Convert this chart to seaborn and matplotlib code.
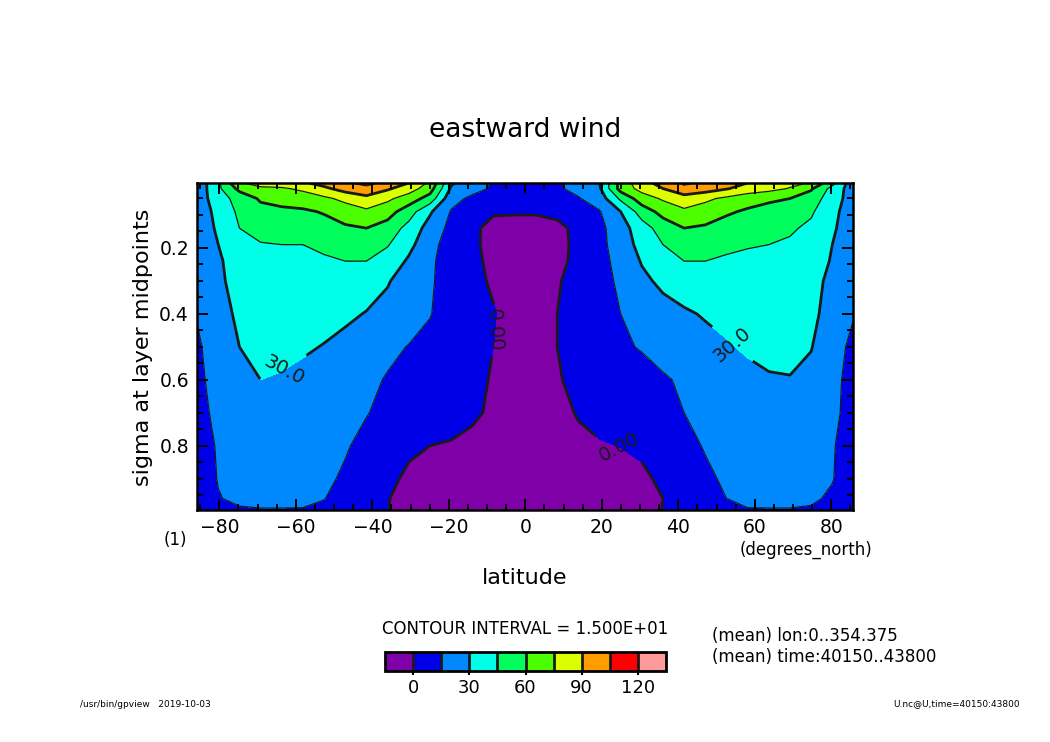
import numpy as np
import matplotlib
matplotlib.use('Agg')
import matplotlib.pyplot as plt
from matplotlib.ticker import MultipleLocator, FormatStrFormatter
import seaborn as sns

# latitude of the grid columns (degrees_north)
lat = [-85.76, -80.27, -74.74, -69.21, -63.68, -58.14, -52.61, -47.07, -41.54, -36.01, -30.47,
       -24.94, -19.41, -13.87, -8.34, -2.79, 2.79, 8.34, 13.87, 19.41, 24.94, 30.47, 36.01,
       41.54, 47.07, 52.61, 58.14, 63.68, 69.21, 74.74, 80.27, 85.76]

# sigma of the grid rows (top to bottom)
sigma = [0.003, 0.02, 0.05, 0.09, 0.14, 0.19, 0.24, 0.3, 0.4, 0.5, 0.6, 0.7, 0.8, 0.9, 0.96, 0.995]

# zonal mean eastward wind (m/s), one row per sigma level
eastward_wind = [
    [20, 42, 74, 79, 83, 88, 95, 103, 110, 100, 90, 72, 32, 22, 14, 11, 11, 13, 22, 30, 65, 85, 95, 108, 102, 94, 90, 82, 79, 74, 50, 20],
    [20, 42, 64, 73, 73, 78, 87, 96, 100, 92, 82, 67, 28, 20, 13, 10, 10, 13, 19, 28, 66, 80, 90, 100, 97, 91, 84, 80, 74, 62, 40, 22],
    [22, 38, 51, 62, 65, 67, 72, 79, 86, 78, 68, 54, 20, 12, 7, 6, 6, 8, 14, 22, 48, 68, 77, 84, 78, 72, 66, 62, 60, 52, 38, 22],
    [22, 34, 48, 55, 57, 58, 61, 67, 72, 66, 52, 32, 14, 6, 1, 1, 1, 3, 8, 14, 30, 52, 65, 72, 68, 62, 58, 56, 54, 47, 34, 22],
    [22, 32, 45, 51, 52, 53, 55, 58, 60, 54, 40, 24, 11, 2, -3, -4, -4, -3, 3, 11, 24, 38, 52, 60, 58, 54, 51, 49, 47, 42, 32, 22],
    [22, 30, 40, 44, 45, 45, 48, 51, 52, 46, 34, 20, 8, 3, -5, -6, -6, -5, 4, 11, 22, 35, 45, 51, 51, 48, 46, 45, 43, 38, 30, 22],
    [20, 28, 37, 41, 42, 42, 43, 45, 45, 39, 28, 18, 7, 4, -4, -8, -8, -4, 4, 10, 20, 31, 39, 45, 45, 43, 42, 41, 40, 36, 29, 20],
    [19, 27.5, 35, 37, 38, 38, 38, 37, 35, 31, 24, 17, 8, 4, -2, -8, -7, -1, 4, 9, 18, 27, 33, 36, 37, 38, 38, 38, 37, 34, 27, 19],
    [16, 24, 33, 36, 37, 36, 34, 32, 29.5, 26, 21, 15.5, 10, 6, 1, -6, -6, 0, 5, 10, 15, 20, 25, 28.5, 31, 33, 35, 36, 36, 33, 25, 16],
    [13, 22, 30, 33, 33, 31.5, 29.5, 27, 23, 18, 14.5, 12, 9, 5, 0, -6, -6, 0, 6, 10, 13, 16, 20, 23.5, 26.5, 29, 31.5, 33, 33, 30.5, 22, 11],
    [12, 20, 27, 30, 29, 27, 24, 21, 18, 14, 11, 9, 6, 3, -1, -7, -7, -1, 3, 6, 8, 10, 13.5, 17, 21, 24.5, 27, 29, 29.5, 27, 19, 10],
    [11, 18, 22, 24, 24.5, 23.5, 21, 18, 15.5, 12, 9, 7, 5, 2, -2, -8, -8, -4, 1, 4, 6, 8, 11, 15, 18, 21, 23.5, 24.5, 24.5, 23, 18, 10],
    [10, 16, 19, 20.5, 21, 20, 18, 16, 12, 7, 2, 0, -1, -3, -6, -9, -9, -6, -3, -1, 0.3, 2, 6, 11, 16, 18.5, 20, 21, 21, 19.5, 16, 9],
    [9, 15.5, 18, 19, 19.5, 19, 17, 13.5, 8, 2.5, -2, -5, -7, -8, -10, -11, -11, -10, -9, -7, -5, -2, 2, 7, 12.5, 17, 19, 19.5, 19.5, 18.5, 15.5, 9],
    [7, 14.5, 17, 17.5, 17.5, 17, 15.3, 11, 5, 0.5, -4, -7, -9, -10, -11, -12, -12, -11, -10, -9, -7, -4, 0, 5, 11, 15, 17, 17.5, 17.5, 16.5, 13.5, 7],
    [5, 12, 14, 14.5, 14.5, 14.5, 13, 9, 4, 0.3, -4, -7, -9, -10, -11, -12, -12, -11, -10, -9, -7, -4, 0.3, 4, 9, 13, 14.5, 14.5, 14.5, 14, 11.5, 5],
]

tone_colors = ['#8000a8', '#0000e8', '#0088ff', '#00ffe8', '#00ff5c',
               '#4cff00', '#dcff00', '#ff9c00', '#ff0000', '#ff9a9a']
cbar_ticks = [0, 30, 60, 90, 120]

sns.set_theme(style='ticks')
plt.rcParams['font.family'] = ['DejaVu Sans']
for key in ['text.color', 'axes.labelcolor', 'xtick.color', 'ytick.color', 'axes.edgecolor']:
    plt.rcParams[key] = 'black'

levels = np.arange(-15, 136, 15)
u = np.array(eastward_wind)

fig = plt.figure(figsize=(10.5, 7.42), dpi=100)
ax = fig.add_axes([197.3 / 1050, 1 - 510 / 742, 656 / 1050, 327 / 742])
ax.set_axisbelow(False)

cf = ax.contourf(lat, sigma, u, levels=levels, colors=sns.color_palette(tone_colors))
ax.contour(lat, sigma, u, levels=[15, 45, 75, 105], colors='k', linewidths=0.9)
thick = ax.contour(lat, sigma, u, levels=[0, 30, 60, 90, 120], colors='k', linewidths=2.0)
ax.clabel(thick, levels=[0, 30], fmt={0: '0.00', 30: '30.0'}, fontsize=14, inline=True,
          manual=[(-8.2, 0.45), (24.7, 0.80), (-63.6, 0.56), (54.3, 0.49)])

ax.set_xlim(lat[0], lat[-1])
ax.set_ylim(sigma[-1], sigma[0])
ax.xaxis.set_major_locator(MultipleLocator(20))
ax.xaxis.set_minor_locator(MultipleLocator(5))
ax.yaxis.set_major_locator(MultipleLocator(0.2))
ax.yaxis.set_minor_locator(MultipleLocator(0.05))
ax.yaxis.set_major_formatter(FormatStrFormatter('%.1f'))
ax.tick_params(which='both', direction='in', top=True, right=True, width=1.4, labelsize=13.5)
ax.tick_params(which='major', length=8, pad=6)
ax.tick_params(which='minor', length=4)
for sp in ax.spines.values():
    sp.set_linewidth(1.8)
    sp.set_zorder(5)

fig.text(0.5, 0.825, 'eastward wind', ha='center', va='center', fontsize=19)
fig.text(0.136, 0.532, 'sigma at layer midpoints', ha='center', va='center', rotation=90, fontsize=16)
fig.text(0.5, 0.221, 'latitude', ha='center', va='center', fontsize=16)
fig.text(0.1667, 0.272, '(1)', ha='center', va='center', fontsize=12)
fig.text(0.831, 0.259, '(degrees_north)', ha='right', va='center', fontsize=12)
fig.text(0.5, 0.152, 'CONTOUR INTERVAL = 1.500E+01', ha='center', va='center', fontsize=12)
fig.text(0.678, 0.143, '(mean) lon:0..354.375', ha='left', va='center', fontsize=12)
fig.text(0.678, 0.1146, '(mean) time:40150..43800', ha='left', va='center', fontsize=12)
fig.text(0.076, 0.0512, '/usr/bin/gpview   2019-10-03', ha='left', va='center', fontsize=6.5)
fig.text(0.971, 0.0512, 'U.nc@U,time=40150:43800', ha='right', va='center', fontsize=6.5)

cax = fig.add_axes([385 / 1050, 1 - 671 / 742, 281 / 1050, 19 / 742])
cb = fig.colorbar(cf, cax=cax, orientation='horizontal', drawedges=True)
cb.set_ticks(cbar_ticks)
cb.outline.set_linewidth(2)
cb.dividers.set_linewidth(2)
cb.dividers.set_color('k')
cb.ax.tick_params(length=3, width=1.5, labelsize=13, pad=3)

fig.savefig('out.png', dpi=100)
